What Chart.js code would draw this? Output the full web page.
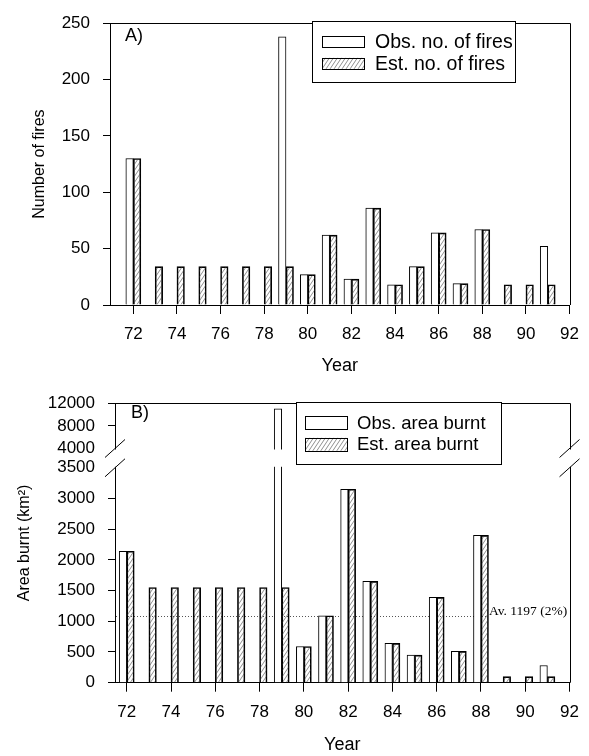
<!DOCTYPE html>
<html>
<head>
<meta charset="utf-8">
<script src="https://cdn.jsdelivr.net/npm/chart.js@4.4.1/dist/chart.umd.min.js"></script>
<style>
  html, body { margin: 0; padding: 0; background: #fff; }
  .panel { position: absolute; left: 0; width: 589px; }
  #fires-wrap { top: 0; height: 380px; }
  #area-wrap { top: 380px; height: 376px; }
</style>
</head>
<body>
<div class="panel" id="fires-wrap"><canvas id="fires-chart"></canvas></div>
<div class="panel" id="area-wrap"><canvas id="area-chart"></canvas></div>
<script>
// values (year 19xx)
const years = [72, 73, 74, 75, 76, 77, 78, 79, 80, 81, 82, 83, 84, 85, 86, 87, 88, 89, 90, 91];
const obsFires = [130, null, null, null, null, null, null, 238, 27, 62, 23, 86, 18, 34, 64, 19, 67, null, null, 52];
const estFires = [130, 34, 34, 34, 34, 34, 34, 34, 27, 62, 23, 86, 18, 34, 64, 19, 67, 18, 18, 18];
const obsArea = [2140, null, null, null, null, null, null, 11000, 590, 1090, 3150, 1650, 640, 450, 1390, 510, 2400, null, null, 280];
const estArea = [2140, 1550, 1550, 1550, 1550, 1550, 1550, 1550, 590, 1090, 3150, 1650, 640, 450, 1390, 510, 2400, 100, 100, 100];

const yearTicks = [72, 74, 76, 78, 80, 82, 84, 86, 88, 90, 92];
const fireTicks = [0, 50, 100, 150, 200, 250];
const areaTicks = [0, 500, 1000, 1500, 2000, 2500, 3000, 3500, 4000, 8000, 12000];
const areaBreak = [3500, 4000];
const areaAverage = 1080;
const averageLabel = 'Av. 1197 (2%)';

Chart.defaults.font.family = '"Liberation Sans", Arial, sans-serif';
Chart.defaults.color = '#000';
Chart.defaults.animation = false;

// y scale with a cut between 3500 and 4000, upper part compressed
const LOW_PART = 223 / 290;
const GAP_PART = 20 / 290;

class BrokenLinearScale extends Chart.LinearScale {
  toDecimal(value) {
    const [b0, b1] = areaBreak;
    if (value <= b0) return (value - this.min) / (b0 - this.min) * LOW_PART;
    if (value <= b1) return LOW_PART + (value - b0) / (b1 - b0) * GAP_PART;
    return LOW_PART + GAP_PART + (value - b1) / (this.max - b1) * (1 - LOW_PART - GAP_PART);
  }
  getPixelForValue(value) {
    if (value === null || value === undefined) return NaN;
    return this.getPixelForDecimal(this.toDecimal(value));
  }
  getValueForPixel(pixel) {
    const [b0, b1] = areaBreak;
    const d = this.getDecimalForPixel(pixel);
    if (d <= LOW_PART) return this.min + d / LOW_PART * (b0 - this.min);
    if (d <= LOW_PART + GAP_PART) return b0 + (d - LOW_PART) / GAP_PART * (b1 - b0);
    return b1 + (d - LOW_PART - GAP_PART) / (1 - LOW_PART - GAP_PART) * (this.max - b1);
  }
}
BrokenLinearScale.id = 'brokenLinear';
BrokenLinearScale.defaults = Chart.LinearScale.defaults;
Chart.register(BrokenLinearScale);

function hatchPattern() {
  const tile = document.createElement('canvas');
  tile.width = 4;
  tile.height = 6;
  const c = tile.getContext('2d');
  c.strokeStyle = '#444';
  c.lineWidth = 0.6;
  c.beginPath();
  c.moveTo(0, 6); c.lineTo(4, 0);
  c.moveTo(-1, 1.5); c.lineTo(1, -1.5);
  c.moveTo(3, 7.5); c.lineTo(5, 4.5);
  c.stroke();
  return c.createPattern(tile, 'repeat');
}
const hatch = hatchPattern();

const toPoints = (values) => years
  .map((x, i) => ({ x, y: values[i] }))
  .filter((p) => p.y !== null);

const crisp = (v) => Math.round(v) + 0.5;

// frame, axis break, inline legend, panel letter, average line
const panelDecor = {
  id: 'panelDecor',
  beforeDatasetsDraw(chart, args, opts) {
    if (opts.average === undefined) return;
    const { ctx, chartArea: { left } } = chart;
    const y = crisp(chart.scales.y.getPixelForValue(opts.average));
    const textX = chart.scales.x.getPixelForValue(88) + 8;
    ctx.save();
    ctx.strokeStyle = '#555';
    ctx.lineWidth = 1;
    ctx.setLineDash([1, 2]);
    ctx.beginPath();
    ctx.moveTo(left + 1, y);
    ctx.lineTo(textX - 2, y);
    ctx.stroke();
    ctx.setLineDash([]);
    ctx.fillStyle = '#000';
    ctx.font = '13.5px "Liberation Serif", "Times New Roman", serif';
    ctx.textBaseline = 'alphabetic';
    ctx.fillText(opts.averageText, textX, y - 2);
    ctx.restore();
  },
  afterDraw(chart, args, opts) {
    const { ctx, chartArea: { left, right, top, bottom } } = chart;
    ctx.save();
    ctx.strokeStyle = '#000';
    ctx.lineWidth = 1;
    ctx.beginPath();
    ctx.moveTo(crisp(left), crisp(top));
    ctx.lineTo(crisp(right), crisp(top));
    ctx.lineTo(crisp(right), bottom);
    ctx.stroke();

    if (opts.breakRange) {
      const yHigh = chart.scales.y.getPixelForValue(opts.breakRange[1]);
      const yLow = chart.scales.y.getPixelForValue(opts.breakRange[0]);
      ctx.fillStyle = '#fff';
      ctx.fillRect(left - 3, yHigh + 1, right - left + 6, yLow - yHigh - 2);
      [left, right].forEach((x) => {
        [yHigh, yLow].forEach((y) => {
          ctx.beginPath();
          ctx.moveTo(x - 10, y + 9);
          ctx.lineTo(x + 10, y - 9);
          ctx.stroke();
        });
      });
    }

    ctx.fillStyle = '#000';
    ctx.font = '18px "Liberation Sans", Arial, sans-serif';
    ctx.textBaseline = 'middle';
    ctx.fillText(opts.letter.text, opts.letter.x, opts.letter.y);

    const lg = opts.legend;
    ctx.fillStyle = '#fff';
    ctx.fillRect(lg.x, lg.y, lg.w, lg.h);
    ctx.strokeRect(crisp(lg.x), crisp(lg.y), Math.round(lg.w), Math.round(lg.h));
    ctx.font = lg.fontSize + 'px "Liberation Sans", Arial, sans-serif';
    chart.data.datasets.forEach((ds, i) => {
      const row = lg.rows[i];
      ctx.fillStyle = ds.backgroundColor;
      ctx.fillRect(lg.swatchX, row - lg.swatchH / 2, lg.swatchW, lg.swatchH);
      ctx.strokeRect(crisp(lg.swatchX), crisp(row - lg.swatchH / 2), lg.swatchW, Math.round(lg.swatchH));
      ctx.fillStyle = '#000';
      ctx.fillText(ds.label, lg.textX, row + 1);
    });
    ctx.restore();
  }
};

function yearAxis(min, height, titlePad) {
  return {
    type: 'linear',
    min,
    max: 92,
    offset: false,
    afterBuildTicks: (scale) => { scale.ticks = yearTicks.map((value) => ({ value })); },
    afterFit: (scale) => { scale.height = height; },
    grid: { offset: false, drawOnChartArea: false, tickLength: 9, tickColor: '#000' },
    border: { color: '#000', width: 1 },
    ticks: { autoSkip: false, maxRotation: 0, padding: 10, font: { size: 17 }, callback: (v) => String(v) },
    title: { display: true, text: 'Year', font: { size: 18 }, padding: { top: 0, bottom: titlePad } }
  };
}

function barSet(label, values, fill) {
  return {
    label,
    data: toPoints(values),
    backgroundColor: fill,
    borderColor: '#000',
    borderWidth: 1,
    barThickness: 7.5
  };
}

new Chart(document.getElementById('fires-chart'), {
  type: 'bar',
  data: {
    datasets: [
      barSet('Obs. no. of fires', obsFires, '#fff'),
      barSet('Est. no. of fires', estFires, hatch)
    ]
  },
  options: {
    responsive: true,
    maintainAspectRatio: false,
    layout: { padding: { left: 0, right: 18, top: 15, bottom: 0 } },
    scales: {
      x: yearAxis(70.93, 75, 3.2),
      y: {
        type: 'linear',
        min: 0,
        max: 250,
        afterBuildTicks: (scale) => { scale.ticks = fireTicks.map((value) => ({ value })); },
        afterFit: (scale) => { scale.width = 110; },
        grid: { drawOnChartArea: false, tickLength: 7, tickColor: '#000' },
        border: { color: '#000', width: 1 },
        ticks: { padding: 13, font: { size: 17 }, callback: (v) => String(v) },
        title: { display: true, text: 'Number of fires', font: { size: 16 }, padding: { top: 30.4, bottom: 0 } }
      }
    },
    plugins: {
      legend: { display: false },
      tooltip: { enabled: false },
      panelDecor: {
        letter: { text: 'A)', x: 125, y: 36 },
        legend: { x: 312, y: 21, w: 203, h: 61, fontSize: 19.5, swatchX: 322, swatchW: 42, swatchH: 11, rows: [41.7, 63.3], textX: 375 }
      }
    }
  },
  plugins: [panelDecor]
});

new Chart(document.getElementById('area-chart'), {
  type: 'bar',
  data: {
    datasets: [
      barSet('Obs. area burnt', obsArea, '#fff'),
      barSet('Est. area burnt', estArea, hatch)
    ]
  },
  options: {
    responsive: true,
    maintainAspectRatio: false,
    layout: { padding: { left: 0, right: 18.3, top: 13.3, bottom: 0 } },
    scales: {
      x: yearAxis(71.47, 73.3, 0.2),
      y: {
        type: 'brokenLinear',
        min: 0,
        max: 12000,
        afterBuildTicks: (scale) => { scale.ticks = areaTicks.map((value) => ({ value })); },
        afterFit: (scale) => { scale.width = 115; },
        grid: {
          drawOnChartArea: false,
          tickLength: 7,
          tickColor: (ctx) => (ctx.tick && areaBreak.includes(ctx.tick.value) ? 'rgba(0,0,0,0)' : '#000')
        },
        border: { color: '#000', width: 1 },
        ticks: { padding: 13, font: { size: 17 }, callback: (v) => String(v) },
        title: { display: true, text: 'Area burnt (km²)', font: { size: 16 }, padding: { top: 15.4, bottom: 0 } }
      }
    },
    plugins: {
      legend: { display: false },
      tooltip: { enabled: false },
      panelDecor: {
        letter: { text: 'B)', x: 131, y: 33.5 },
        breakRange: areaBreak,
        average: areaAverage,
        averageText: averageLabel,
        legend: { x: 296, y: 22.3, w: 205, h: 61.7, fontSize: 18.5, swatchX: 305, swatchW: 42, swatchH: 13, rows: [42.7, 64.3], textX: 357 }
      }
    }
  },
  plugins: [panelDecor]
});
</script>
</body>
</html>
